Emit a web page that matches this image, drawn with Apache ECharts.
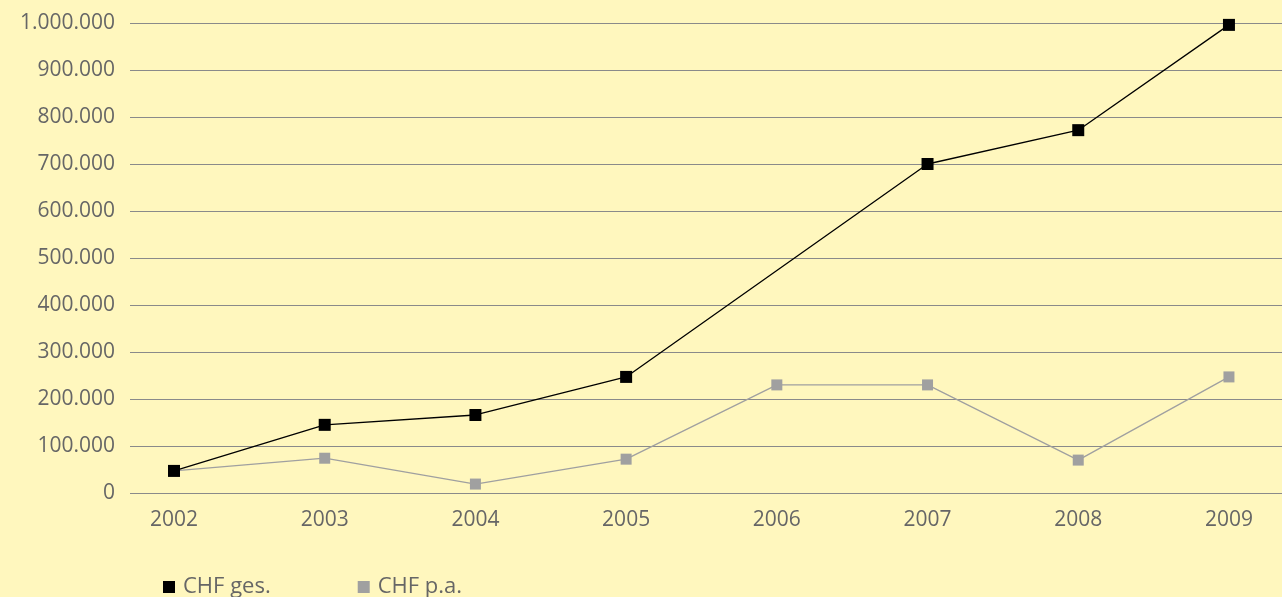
<!DOCTYPE html>
<html>
<head>
<meta charset="utf-8">
<script src="https://cdn.jsdelivr.net/npm/echarts@6/dist/echarts.min.js"></script>
<style>
  html, body { margin: 0; padding: 0; background: #fff7be; }
  #chart { width: 1282px; height: 597px; }
</style>
</head>
<body>
<div id="chart"></div>
<script>
let years = [2002, 2003, 2004, 2005, 2006, 2007, 2008, 2009]
let chfGes = [47000, 145000, 166000, 247000, null, 700000, 772000, 996000]
let chfPa = [47000, 74000, 19000, 72000, 230000, 230000, 70000, 247000]

let textColor = '#666666'
let font = 'Open Sans'

// Jahr + Wert als Paare, Lücken (null) werden verbunden
function pairs(values) {
  return years.map((y, i) => [y, values[i]]).filter(p => p[1] !== null)
}

function fmt(v) {
  return String(v).replace(/\B(?=(\d{3})+(?!\d))/g, '.')
}

let myChart = echarts.init(document.getElementById('chart'))

myChart.setOption({
  backgroundColor: '#fff7be',
  animation: false,
  textStyle: { fontFamily: font },
  grid: { left: 130, right: 0, top: 23, bottom: 104 },
  legend: {
    left: 158,
    top: 571,
    icon: 'rect',
    itemWidth: 12,
    itemHeight: 12,
    itemGap: 87,
    textStyle: { color: textColor, fontSize: 22, fontFamily: font, padding: [0, 0, 0, 3] },
    data: ['CHF ges.', 'CHF p.a.']
  },
  xAxis: {
    type: 'value',
    min: 2001.708,
    max: 2009.352,
    splitLine: { show: false },
    axisLine: { show: false },
    axisTick: { show: false },
    axisLabel: {
      customValues: years,
      color: textColor,
      fontSize: 21,
      margin: 17,
      formatter: v => String(v)
    }
  },
  yAxis: {
    type: 'value',
    min: 0,
    max: 1000000,
    interval: 100000,
    axisLine: { show: false },
    axisTick: { show: false },
    splitLine: { lineStyle: { color: '#8a8a8a', width: 1 } },
    axisLabel: {
      color: textColor,
      fontSize: 21,
      margin: 15,
      formatter: v => fmt(v)
    }
  },
  series: [
    {
      name: 'CHF p.a.',
      type: 'line',
      data: pairs(chfPa),
      symbol: 'rect',
      symbolSize: 11,
      itemStyle: { color: '#a0a0a0' },
      lineStyle: { color: '#a0a0a0', width: 1.3 },
      z: 2
    },
    {
      name: 'CHF ges.',
      type: 'line',
      data: pairs(chfGes),
      symbol: 'rect',
      symbolSize: 12,
      itemStyle: { color: '#000000' },
      lineStyle: { color: '#000000', width: 1.3 },
      z: 3
    }
  ]
})
</script>
</body>
</html>
